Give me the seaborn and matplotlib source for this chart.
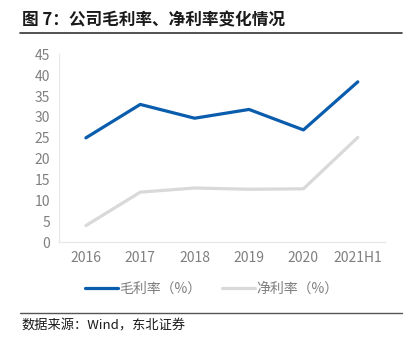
import matplotlib
matplotlib.use("Agg")
import matplotlib.pyplot as plt
import seaborn as sns
import pandas as pd
from matplotlib.lines import Line2D

years = ["2016", "2017", "2018", "2019", "2020", "2021H1"]
gross_margin = [25.0, 33.0, 29.7, 31.8, 26.9, 38.4]
net_margin = [4.0, 12.0, 13.0, 12.7, 12.8, 25.1]
series_names = ["毛利率（%）", "净利率（%）"]
title_text = "图 7：公司毛利率、净利率变化情况"
source_text = "数据来源：Wind，东北证券"

sns.set_theme(style="white")
plt.rcParams['font.family'] = ['Noto Sans CJK SC', 'DejaVu Sans']

df = pd.DataFrame({
    "year": years * 2,
    "value": gross_margin + net_margin,
    "series": [series_names[0]] * len(years) + [series_names[1]] * len(years),
})

fig = plt.figure(figsize=(4.11, 3.44), dpi=100)
ax = fig.add_axes([0.1428, 0.2956, 0.7939, 0.5466])
palette = {series_names[0]: "#0A5CAD", series_names[1]: "#D9D9D9"}
sns.lineplot(data=df, x="year", y="value", hue="series", palette=palette,
             linewidth=2.3, ax=ax, legend=False, sort=False)
ax.set_xlim(-0.5, len(years) - 0.5)
ax.set_ylim(0, 45)
ax.set_yticks(range(0, 50, 5))
ax.set_xlabel("")
ax.set_ylabel("")
for s in ["top", "right"]:
    ax.spines[s].set_visible(False)
for s in ["left", "bottom"]:
    ax.spines[s].set_color("#E6E6E6")
    ax.spines[s].set_linewidth(0.8)
ax.tick_params(axis="y", colors="#7F7F7F", labelsize=10, length=2, width=0.6, color="#E6E6E6", pad=4)
ax.tick_params(axis="x", colors="#7F7F7F", labelsize=10, length=0, pad=6)
for lab in ax.get_xticklabels() + ax.get_yticklabels():
    lab.set_color("#7F7F7F")

handles = [Line2D([0], [0], color=palette[n], lw=2.3) for n in series_names]
fig.legend(handles, series_names, loc="center", bbox_to_anchor=(0.515, 0.16), ncol=2,
           frameon=False, fontsize=10, handlelength=2.4, handletextpad=0.05,
           columnspacing=1.5, labelcolor="#7F7F7F")

fig.text(0.053, 0.942, title_text, fontsize=12, fontweight="bold", color="#1A1A1A", va="center")
fig.add_artist(Line2D([0.049, 0.978], [0.904, 0.904], color="#333333", lw=1.2, transform=fig.transFigure))
fig.add_artist(Line2D([0.049, 0.978], [0.09, 0.09], color="#555555", lw=1.0, transform=fig.transFigure))
fig.text(0.053, 0.052, source_text, fontsize=9.5, color="#1A1A1A", va="center")

fig.savefig("out.png", dpi=100)
